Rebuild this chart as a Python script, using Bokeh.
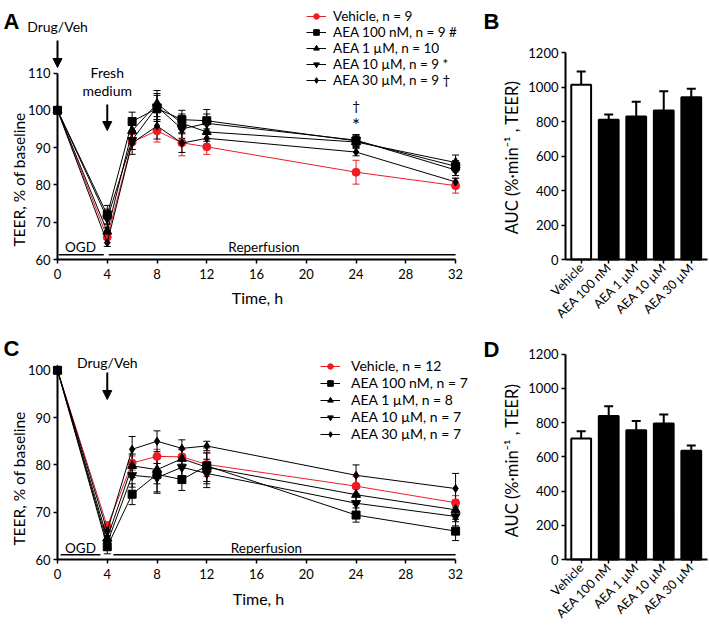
import math
from bokeh.plotting import figure
from bokeh.models import (Range1d, FixedTicker, Legend, LegendItem, Label, Arrow,
                          NormalHead, Whisker, TeeHead, ColumnDataSource)
from bokeh.layouts import row, column
from bokeh.embed import file_html
from bokeh.resources import INLINE

FONT = "Lato"
RED = "#ee1c25"

# ---------------- data ----------------
times = [0, 4, 6, 8, 10, 12, 24, 32]

# Panel A (drug at time 0)
a_vehicle = [100, 66.0, 91.5, 94.5, 91.3, 90.2, 83.4, 79.8]
a_vehicle_err = [0, 1.5, 2.0, 3.0, 3.5, 2.0, 3.2, 2.0]
a_100nm = [100, 72.0, 97.0, 100.5, 97.5, 97.2, 91.8, 85.0]
a_100nm_err = [0, 2.5, 2.5, 3.5, 2.5, 3.0, 1.5, 1.5]
a_1um = [100, 67.5, 94.5, 101.8, 96.5, 94.2, 91.5, 86.0]
a_1um_err = [0, 2.0, 2.0, 3.5, 2.5, 2.5, 1.5, 2.0]
a_10um = [100, 71.0, 92.0, 101.0, 95.0, 96.5, 92.0, 84.0]
a_10um_err = [0, 2.5, 2.5, 3.5, 2.5, 2.5, 1.5, 1.5]
a_30um = [100, 64.5, 91.2, 95.8, 91.2, 92.5, 88.8, 80.8]
a_30um_err = [0, 1.0, 3.0, 3.5, 2.5, 2.5, 1.0, 1.0]
a_labels = ["Vehicle, n = 9", "AEA 100 nM, n = 9 #", "AEA 1 µM, n = 10",
            "AEA 10 µM, n = 9 *", "AEA 30 µM, n = 9 †"]

# Panel C (drug at time 4)
c_vehicle = [100, 67.0, 80.4, 81.8, 81.7, 80.1, 75.5, 72.0]
c_vehicle_err = [0, 1.0, 1.5, 1.5, 1.5, 2.5, 2.0, 1.5]
c_100nm = [100, 62.7, 73.8, 78.0, 76.9, 79.8, 69.4, 66.0]
c_100nm_err = [0, 1.5, 2.2, 4.0, 2.3, 3.8, 1.5, 2.0]
c_1um = [100, 64.5, 79.8, 79.0, 81.3, 79.5, 73.7, 70.5]
c_1um_err = [0, 1.5, 2.5, 3.0, 2.0, 3.0, 2.0, 2.0]
c_10um = [100, 63.5, 77.8, 77.3, 79.5, 78.2, 71.9, 69.1]
c_10um_err = [0, 1.5, 2.5, 3.0, 2.0, 3.0, 2.0, 2.0]
c_30um = [100, 66.0, 83.3, 85.0, 83.5, 84.0, 77.8, 75.0]
c_30um_err = [0, 1.0, 2.7, 2.2, 1.8, 1.0, 2.2, 3.2]
c_labels = ["Vehicle, n = 12", "AEA 100 nM, n = 7", "AEA 1 µM, n = 8",
            "AEA 10 µM, n = 7", "AEA 30 µM, n = 7"]

# Bars
bar_categories = ["Vehicle", "AEA 100 nM", "AEA 1 µM", "AEA 10 µM", "AEA 30 µM"]
b_auc = [1013, 810, 829, 864, 941]
b_auc_err = [77, 30, 85, 112, 49]
d_auc = [707, 839, 756, 795, 635]
d_auc_err = [43, 57, 54, 52, 31]

x_ticks = [0, 4, 8, 12, 16, 20, 24, 28, 32]
markers = ["circle", "square", "triangle", "inverted_triangle", "diamond"]
marker_sizes = [8, 8, 9, 9, 8]
colors = [RED, "black", "black", "black", "black"]

# ---------------- layout geometry (pixels) ----------------
ROW1_H = 320
ROW2_H = 316
LEFT_W = 500
RIGHT_W = 208
PX_PER_H = 12.44
AXIS0_X = 57


def hx(px):
    """page x pixel -> hours for the line panels"""
    return (px - AXIS0_X) / PX_PER_H


def style_axes(p, tick_font):
    for ax in (p.xaxis, p.yaxis):
        ax.axis_line_width = 2
        ax.axis_line_color = "black"
        ax.major_tick_line_width = 1.5
        ax.major_tick_line_color = "black"
        ax.major_tick_out = 4
        ax.major_tick_in = 0
        ax.minor_tick_line_color = None
        ax.major_label_text_font = FONT
        ax.major_label_text_font_size = tick_font
        ax.major_label_text_color = "black"
        ax.axis_label = None


def txt(p, x, y, text, size="13.5px", align="center", baseline="middle",
        font=FONT, style="normal", angle=0):
    p.add_layout(Label(x=x, y=y, text=text, text_align=align, text_baseline=baseline,
                       text_font=font, text_font_size=size, text_font_style=style,
                       text_color="black", angle=angle))


def arrow(p, x, y0, y1):
    p.add_layout(Arrow(end=NormalHead(size=9, fill_color="black", line_color="black"),
                       x_start=x, y_start=y0, x_end=x, y_end=y1, line_width=2))


def line_panel(height, axis_y_px, px_per_unit, y_ticks, y_top, series, labels,
               legend_xy, standoff, legend_font):
    y_start = 60 - (height - axis_y_px) / px_per_unit
    y_end = 60 + axis_y_px / px_per_unit
    p = figure(width=LEFT_W, height=height, x_range=Range1d(hx(0), hx(LEFT_W)),
               y_range=Range1d(y_start, y_end), output_backend="svg",
               toolbar_location=None, min_border_left=0, min_border_right=0,
               min_border_top=0, min_border_bottom=0)
    p.outline_line_color = None
    p.grid.grid_line_color = None
    style_axes(p, "13px")
    p.xaxis.ticker = FixedTicker(ticks=x_ticks)
    p.xaxis.bounds = (0, 32)
    p.xaxis.fixed_location = 60
    p.xaxis.major_label_standoff = 5
    p.yaxis.ticker = FixedTicker(ticks=y_ticks)
    p.yaxis.bounds = (60, y_top)
    p.yaxis.fixed_location = 0
    p.yaxis.major_label_standoff = 3

    items = []
    for (vals, errs), lab, mk, ms, col in zip(series, labels, markers, marker_sizes, colors):
        lr = p.line(times, vals, line_color=col, line_width=1)
        src = ColumnDataSource(dict(x=times,
                                    lo=[v - e for v, e in zip(vals, errs)],
                                    hi=[v + e for v, e in zip(vals, errs)]))
        p.add_layout(Whisker(source=src, base="x", lower="lo", upper="hi",
                             line_color=col, line_width=1,
                             upper_head=TeeHead(size=7, line_color=col, line_width=1),
                             lower_head=TeeHead(size=7, line_color=col, line_width=1)))
        sr = p.scatter(times, vals, marker=mk, size=ms, fill_color=col, line_color=col)
        items.append(LegendItem(label=lab, renderers=[lr, sr]))

    legend = Legend(items=items, location=legend_xy, border_line_color=None,
                    background_fill_alpha=0, padding=0, margin=0, spacing=0,
                    glyph_width=20, glyph_height=14, label_height=14,
                    label_standoff=standoff, label_text_font=FONT,
                    label_text_font_size=legend_font, label_text_color="black")
    p.add_layout(legend)

    def py(page_y):
        return 60 + (axis_y_px - page_y) / px_per_unit
    return p, py


# ---------------- Panel A ----------------
pA, pyA = line_panel(ROW1_H, 259, 3.73, [60, 70, 80, 90, 100, 110], 110,
                     [(a_vehicle, a_vehicle_err), (a_100nm, a_100nm_err),
                      (a_1um, a_1um_err), (a_10um, a_10um_err), (a_30um, a_30um_err)],
                     a_labels, (306, 232), 7, "13.5px")
txt(pA, hx(3), pyA(8), "A", size="22px", align="left", baseline="top",
    font="Liberation Sans", style="bold")
txt(pA, hx(483), pyA(8), "B", size="22px", align="left", baseline="top",
    font="Liberation Sans", style="bold")
txt(pA, hx(18.5), pyA(179), "TEER, % of baseline", size="15.5px", angle=math.pi / 2)
txt(pA, hx(257), pyA(297), "Time, h", size="16px")
txt(pA, 0, pyA(26), "Drug/Veh", size="14px")
arrow(pA, 0, pyA(40), pyA(67))
txt(pA, 4, pyA(72), "Fresh", size="14px")
txt(pA, 4, pyA(90), "medium", size="14px")
arrow(pA, 4, pyA(104), pyA(130))
pA.segment(x0=[0.1, 4.12], y0=[61.25, 61.25], x1=[3.72, 32], y1=[61.25, 61.25],
           line_color="black", line_width=1.5)
txt(pA, 1.85, pyA(246), "OGD")
txt(pA, 16.6, pyA(246), "Reperfusion")
txt(pA, 24, pyA(105), "†")
txt(pA, 24, pyA(124), "*", size="19px")

# ---------------- Panel C ----------------
C_AXIS = 559 - ROW1_H
pC, pyC0 = line_panel(ROW2_H, C_AXIS, 4.73, [60, 70, 80, 90, 100], 100,
                      [(c_vehicle, c_vehicle_err), (c_100nm, c_100nm_err),
                       (c_1um, c_1um_err), (c_10um, c_10um_err), (c_30um, c_30um_err)],
                      c_labels, (320, 194), 11, "14px")


def pyC(page_y):
    return pyC0(page_y - ROW1_H)


txt(pC, hx(3), pyC(335), "C", size="22px", align="left", baseline="top",
    font="Liberation Sans", style="bold")
txt(pC, hx(483), pyC(336), "D", size="22px", align="left", baseline="top",
    font="Liberation Sans", style="bold")
txt(pC, hx(18.5), pyC(478), "TEER, % of baseline", size="15.5px", angle=math.pi / 2)
txt(pC, hx(258), pyC(598), "Time, h", size="16px")
txt(pC, 4, pyC(362), "Drug/Veh", size="14px")
arrow(pC, 4, pyC(372), pyC(399))
pC.segment(x0=[0.25, 4.5], y0=[61.0, 61.0], x1=[3.45, 32], y1=[61.0, 61.0],
           line_color="black", line_width=1.5)
txt(pC, 1.85, pyC(547), "OGD")
txt(pC, 16.8, pyC(547), "Reperfusion")


# ---------------- Bar panels ----------------
BAR_PX_X = 27.52
BAR_AXIS_X = 0.43
BAR_AXIS_PX = 565  # page x of the bar y-axis


def bx(page_x):
    return BAR_AXIS_X + (page_x - BAR_AXIS_PX) / BAR_PX_X


def bar_panel(height, top_page, axis_y_px, px_per_unit, vals, errs, label_y_page):
    positions = list(range(1, len(bar_categories) + 1))
    x_start = bx(LEFT_W)
    x_end = bx(LEFT_W + RIGHT_W)
    p = figure(width=RIGHT_W, height=height, x_range=Range1d(x_start, x_end),
               y_range=Range1d(-(height - axis_y_px) / px_per_unit,
                               axis_y_px / px_per_unit),
               output_backend="svg", toolbar_location=None, min_border_left=0,
               min_border_right=0, min_border_top=0, min_border_bottom=0)
    p.outline_line_color = None
    p.grid.grid_line_color = None
    fills = ["white"] + ["black"] * (len(vals) - 1)
    p.vbar(x=positions, top=vals, width=0.72, fill_color=fills, line_color="black",
           line_width=2)
    src = ColumnDataSource(dict(x=positions, lo=vals,
                                hi=[v + e for v, e in zip(vals, errs)]))
    p.add_layout(Whisker(source=src, base="x", lower="lo", upper="hi",
                         line_color="black", line_width=2, lower_head=None,
                         upper_head=TeeHead(size=9, line_color="black", line_width=2)))
    style_axes(p, "13px")
    p.yaxis.ticker = FixedTicker(ticks=[0, 200, 400, 600, 800, 1000, 1200])
    p.yaxis.bounds = (0, 1200)
    p.yaxis.fixed_location = BAR_AXIS_X
    p.yaxis.major_label_standoff = 3
    p.xaxis.ticker = FixedTicker(ticks=positions)
    p.xaxis.bounds = (BAR_AXIS_X, bx(707))
    p.xaxis.fixed_location = 0
    p.xaxis.major_label_overrides = {i: c for i, c in zip(positions, bar_categories)}
    p.xaxis.major_label_orientation = math.pi / 4
    p.xaxis.major_label_text_font_size = "12.5px"
    p.xaxis.major_label_standoff = 2
    p.add_layout(Label(x=bx(511), y=(axis_y_px - (label_y_page - top_page)) / px_per_unit,
                       text="AUC (%·min⁻¹ , TEER)", angle=math.pi / 2,
                       text_align="center", text_baseline="middle", text_font=FONT,
                       text_font_size="16.5px", text_color="black"))
    return p


pB = bar_panel(ROW1_H, 0, 259, 0.1725, b_auc, b_auc_err, 157)
pD = bar_panel(ROW2_H, ROW1_H, 559 - ROW1_H, 0.1711, d_auc, d_auc_err, 460)

layout = column(row(pA, pB), row(pC, pD))
open("out.html", "w").write(file_html(layout, INLINE))
